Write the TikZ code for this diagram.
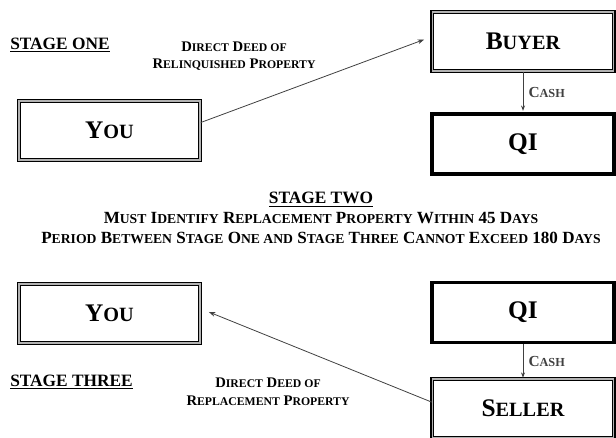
\documentclass[tikz,border=0pt]{standalone}
\usepackage{fontspec}
\setmainfont{Liberation Serif}
\usetikzlibrary{arrows.meta}
\makeatletter
\newcommand\low[1]{{\@tempdima=\f@size pt\@tempdima=0.8\@tempdima
  \fontsize{\strip@pt\@tempdima}{\f@baselineskip}\selectfont #1}}
\makeatother

\begin{document}
\begin{tikzpicture}[x=0.75pt, y=-0.75pt,
    framebox/.style={draw=black, line width=0.9pt, double=gray!60, double distance=1.1pt,
      minimum width=136pt, minimum height=44.5pt, font=\fontsize{19}{22}\selectfont\bfseries},
    qibox/.style={draw=black, line width=2.4pt, minimum width=136.4pt, minimum height=45pt,
      font=\fontsize{19}{22}\selectfont\bfseries},
    tag/.style={font=\fontsize{11}{13.2}\selectfont\bfseries, align=center},
    cashtag/.style={font=\fontsize{11.5}{14}\selectfont\bfseries},
    title/.style={font=\fontsize{13}{15}\selectfont\bfseries, anchor=west, inner sep=0pt},
    deed/.style={-{Stealth[length=5pt,width=3.5pt]}, black!75, line width=0.6pt},
    money/.style={-{Stealth[length=4pt,width=3pt]}, black!75, line width=0.6pt}]
    \useasboundingbox (0, 0) rectangle (616, 437);

    % stage one
    \node[framebox] (you1) at (109.5, 130.5) {Y\low{OU}};
    \node[framebox] (buyer) at (523, 41.5) {B\low{UYER}};
    \node[qibox] (qi1) at (523, 144) {QI};
    \node[title] (stageone) at (10, 45) {\underline{STAGE ONE}};
    \node[tag] (deedone) at (234, 56) {D\low{IRECT} D\low{EED OF}\\R\low{ELINQUISHED} P\low{ROPERTY}};
    \draw[deed, shorten >=6pt] (you1.5) -- (buyer.177);
    \draw[money, shorten >=1.2pt] (buyer.south) -- (qi1.north)
        node[cashtag, midway, right, xshift=0.5pt] (cashone) {C\low{ASH}};

    % stage two
    \node[font=\fontsize{12.8}{15}\selectfont\bfseries, align=center] (stagetwo) at (321, 218) {%
        {\fontsize{13}{15}\selectfont\underline{STAGE TWO}}\\
        M\low{UST} I\low{DENTIFY} R\low{EPLACEMENT} P\low{ROPERTY} W\low{ITHIN} 45 D\low{AYS}\\
        P\low{ERIOD} B\low{ETWEEN} S\low{TAGE} O\low{NE AND} S\low{TAGE} T\low{HREE} C\low{ANNOT} E\low{XCEED} 180 D\low{AYS}};

    % stage three
    \node[framebox] (you2) at (109.5, 313.5) {Y\low{OU}};
    \node[qibox] (qi2) at (523, 312.5) {QI};
    \node[framebox] (seller) at (523, 408.5) {S\low{ELLER}};
    \node[title] (stagethree) at (10, 382) {\underline{STAGE THREE}};
    \node[tag] (deedtwo) at (268, 392) {D\low{IRECT} D\low{EED OF}\\R\low{EPLACEMENT} P\low{ROPERTY}};
    \draw[deed, shorten >=6.5pt] (seller.176.5) -- (you2.3);
    \draw[money, shorten >=0.4pt] (qi2.south) -- (seller.north)
        node[cashtag, midway, right, xshift=0.5pt] (cashtwo) {C\low{ASH}};
\end{tikzpicture}
\end{document}
